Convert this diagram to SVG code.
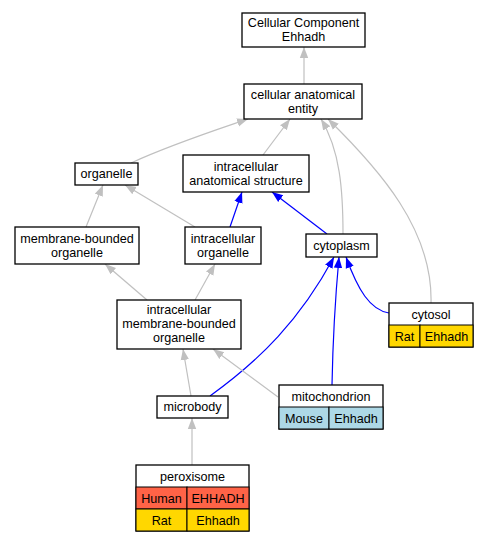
<svg xmlns="http://www.w3.org/2000/svg" width="488" height="541" viewBox="0 0 488 541">
<style>
text{font-family:"Liberation Sans",Arial,sans-serif;font-size:12.6px;text-anchor:middle;fill:#000}
.box{fill:#fff;stroke:#000;stroke-width:1.3}
.cell{stroke:#000;stroke-width:1}
.g{fill:none;stroke:#c0c0c0;stroke-width:1.2}
.b{fill:none;stroke:#0000ff;stroke-width:1.2}
</style>
<defs>
<marker id="ag" markerUnits="userSpaceOnUse" markerWidth="12" markerHeight="10" refX="11" refY="5" orient="auto"><path d="M0,0.8 L11,5 L0,9.2 z" fill="#c0c0c0"/></marker>
<marker id="ab" markerUnits="userSpaceOnUse" markerWidth="12" markerHeight="10" refX="11" refY="5" orient="auto"><path d="M0,0.8 L11,5 L0,9.2 z" fill="#0000ff"/></marker>
</defs>
<g id="edges">
<path class="g" marker-end="url(#ag)" d="M304,84 L304,47"/>
<path class="g" marker-end="url(#ag)" d="M131,163 C170,145 210,132 248,119"/>
<path class="g" marker-end="url(#ag)" d="M263,155 L290,119"/>
<path class="g" marker-end="url(#ag)" d="M343,234 C343,190 340,150 321,119"/>
<path class="g" marker-end="url(#ag)" d="M431,303 C433,230 380,170 328,119"/>
<path class="g" marker-end="url(#ag)" d="M86,227 L103,185"/>
<path class="g" marker-end="url(#ag)" d="M195,227 L125,185"/>
<path class="b" marker-end="url(#ab)" d="M230,227 L242,192"/>
<path class="b" marker-end="url(#ab)" d="M327,234 L272,192"/>
<path class="g" marker-end="url(#ag)" d="M147,300 L105,264"/>
<path class="g" marker-end="url(#ag)" d="M195,300 L215,264"/>
<path class="g" marker-end="url(#ag)" d="M191,396 L183,349"/>
<path class="b" marker-end="url(#ab)" d="M210,396 C260,360 300,320 334,257"/>
<path class="g" marker-end="url(#ag)" d="M278,397 L213,349"/>
<path class="b" marker-end="url(#ab)" d="M332,385 C333,330 336,290 339,257"/>
<path class="b" marker-end="url(#ab)" d="M389,313 C370,310 358,290 346,257"/>
<path class="g" marker-end="url(#ag)" d="M192,465 L192,418"/>
</g>
<g id="cellular_component"><rect class="box" x="242" y="13" width="123" height="34"/><text x="303.5" y="27">Cellular Component</text><text x="303.5" y="41.2">Ehhadh</text></g>
<g id="cellular_anatomical_entity"><rect class="box" x="244" y="84" width="118" height="35"/><text x="303" y="98.5">cellular anatomical</text><text x="303" y="112.7">entity</text></g>
<g id="organelle"><rect class="box" x="75" y="163" width="63" height="22"/><text x="106.5" y="178">organelle</text></g>
<g id="intracellular_anatomical_structure"><rect class="box" x="183" y="155" width="126" height="37"/><text x="246" y="170.5">intracellular</text><text x="246" y="184.7">anatomical structure</text></g>
<g id="membrane_bounded_organelle"><rect class="box" x="15" y="227" width="124" height="37"/><text x="77" y="242.5">membrane-bounded</text><text x="77" y="256.7">organelle</text></g>
<g id="intracellular_organelle"><rect class="box" x="185" y="227" width="76" height="37"/><text x="223" y="242.5">intracellular</text><text x="223" y="256.7">organelle</text></g>
<g id="cytoplasm"><rect class="box" x="306" y="234" width="71" height="23"/><text x="341.5" y="249.5">cytoplasm</text></g>
<g id="cytosol"><rect class="box" x="389" y="303" width="84" height="44"/><rect class="cell" x="389" y="325" width="31" height="22" fill="#ffd700"/><rect class="cell" x="420" y="325" width="53" height="22" fill="#ffd700"/><text x="431" y="318.5">cytosol</text><text x="404.5" y="340.5">Rat</text><text x="446.5" y="340.5">Ehhadh</text></g>
<g id="intracellular_membrane_bounded_organelle"><rect class="box" x="117" y="300" width="124" height="49"/><text x="179" y="313.8">intracellular</text><text x="179" y="328">membrane-bounded</text><text x="179" y="342.2">organelle</text></g>
<g id="microbody"><rect class="box" x="157" y="396" width="71" height="22"/><text x="192.5" y="411">microbody</text></g>
<g id="mitochondrion"><rect class="box" x="279" y="385" width="104" height="44"/><rect class="cell" x="279" y="407" width="50" height="22" fill="#add8e6"/><rect class="cell" x="329" y="407" width="54" height="22" fill="#add8e6"/><text x="331" y="400.5">mitochondrion</text><text x="304" y="422.5">Mouse</text><text x="356" y="422.5">Ehhadh</text></g>
<g id="peroxisome"><rect class="box" x="136" y="465" width="113" height="66"/><rect class="cell" x="136" y="487" width="51" height="22" fill="#ff6347"/><rect class="cell" x="187" y="487" width="62" height="22" fill="#ff6347"/><rect class="cell" x="136" y="509" width="51" height="22" fill="#ffd700"/><rect class="cell" x="187" y="509" width="62" height="22" fill="#ffd700"/><text x="192.5" y="480.5">peroxisome</text><text x="161.5" y="502.5">Human</text><text x="218" y="502.5">EHHADH</text><text x="161.5" y="524.5">Rat</text><text x="218" y="524.5">Ehhadh</text></g>
</svg>
